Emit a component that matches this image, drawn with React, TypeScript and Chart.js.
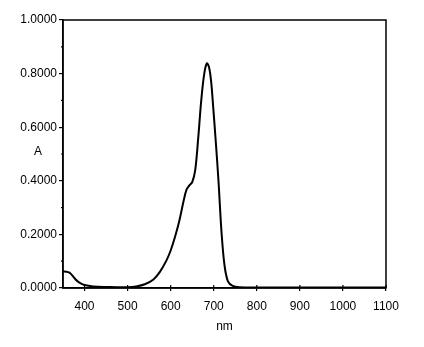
import React, { useEffect, useRef } from "react";
import { Chart, registerables } from "chart.js";

Chart.register(...registerables);

const wavelengths = [350, 358, 364, 370, 376, 383, 390, 400, 420, 450, 500, 520, 540, 560, 575, 590, 600, 610, 620, 630, 637, 643, 650, 657, 664, 671, 678, 684, 689, 694, 699, 705, 711, 718, 725, 733, 744, 760, 800, 900, 1000, 1100];
const absorbance = [0.062, 0.061, 0.058, 0.050, 0.038, 0.026, 0.018, 0.011, 0.006, 0.004, 0.003, 0.006, 0.014, 0.032, 0.060, 0.102, 0.140, 0.190, 0.250, 0.325, 0.368, 0.382, 0.395, 0.440, 0.560, 0.700, 0.800, 0.838, 0.825, 0.770, 0.670, 0.540, 0.400, 0.210, 0.085, 0.025, 0.008, 0.003, 0.002, 0.002, 0.002, 0.002];
const xTicks = [400, 500, 600, 700, 800, 900, 1000, 1100];
const yMajorTicks = [0, 0.2, 0.4, 0.6, 0.8, 1.0];
const yTitle = "A";
const xTitle = "nm";

const FONT = "'Liberation Sans', Arial, sans-serif";

const framePlugin = {
  id: "frame",
  afterDraw(chart: any) {
    const { ctx, chartArea } = chart;
    const xs = chart.scales.x;
    const ys = chart.scales.y;
    ctx.save();
    ctx.strokeStyle = "#000";
    ctx.lineWidth = 1.5;
    ctx.strokeRect(chartArea.left, chartArea.top, chartArea.right - chartArea.left, chartArea.bottom - chartArea.top);
    ctx.lineWidth = 1.2;
    xTicks.forEach((v) => {
      const px = xs.getPixelForValue(v);
      ctx.beginPath();
      ctx.moveTo(px, chartArea.bottom);
      ctx.lineTo(px, chartArea.bottom - 3);
      ctx.stroke();
    });
    for (let i = 1; i < 10; i += 2) {
      const py = ys.getPixelForValue(i / 10);
      ctx.beginPath();
      ctx.moveTo(chartArea.left - 2, py);
      ctx.lineTo(chartArea.left, py);
      ctx.stroke();
    }
    ctx.fillStyle = "#000";
    ctx.font = `12px ${FONT}`;
    ctx.textAlign = "center";
    ctx.textBaseline = "middle";
    ctx.fillText(yTitle, 38, ys.getPixelForValue(0.508));
    ctx.restore();
  },
};

export default function App() {
  const ref = useRef<HTMLCanvasElement>(null);
  useEffect(() => {
    if (!ref.current) return;
    const chart = new Chart(ref.current, {
      type: "line",
      data: {
        datasets: [
          {
            data: wavelengths.map((w, i) => ({ x: w, y: absorbance[i] })),
            borderColor: "#000",
            borderWidth: 2,
            pointRadius: 0,
            tension: 0.35,
            fill: false,
          },
        ],
      },
      options: {
        animation: false,
        responsive: false,
        layout: { padding: { top: 20, right: 38, left: 0, bottom: 0 } },
        plugins: { legend: { display: false }, tooltip: { enabled: false } },
        scales: {
          x: {
            type: "linear",
            min: 350,
            max: 1100,
            afterBuildTicks: (s: any) => {
              s.ticks = xTicks.map((v) => ({ value: v }));
            },
            afterFit: (s: any) => {
              s.height = 59;
            },
            grid: { display: true, drawOnChartArea: false, tickLength: 3, color: "#000", lineWidth: 1.2 },
            border: { display: true, color: "#000", width: 1.5 },
            ticks: {
              color: "#000",
              font: { family: FONT, size: 12 },
              padding: 8,
              maxRotation: 0,
              autoSkip: false,
              callback: (v: any) => String(v),
            },
            title: { display: true, text: xTitle, color: "#000", font: { family: FONT, size: 12 }, padding: { top: 0, bottom: 13 } },
          },
          y: {
            min: 0,
            max: 1,
            afterBuildTicks: (s: any) => {
              s.ticks = yMajorTicks.map((v) => ({ value: v }));
            },
            afterFit: (s: any) => {
              s.width = 63;
            },
            grid: { display: true, drawOnChartArea: false, tickLength: 4, color: "#000", lineWidth: 1.2 },
            border: { display: true, color: "#000", width: 1.5 },
            ticks: {
              color: "#000",
              font: { family: FONT, size: 12 },
              padding: 2,
              callback: (v: any) => Number(v).toFixed(4),
            },
          },
        },
      },
      plugins: [framePlugin],
    });
    return () => chart.destroy();
  }, []);
  return (
    <div style={{ position: "fixed", left: 0, top: 0, width: 424, height: 347, background: "#fff" }}>
      <canvas ref={ref} width={424} height={347} />
    </div>
  );
}
